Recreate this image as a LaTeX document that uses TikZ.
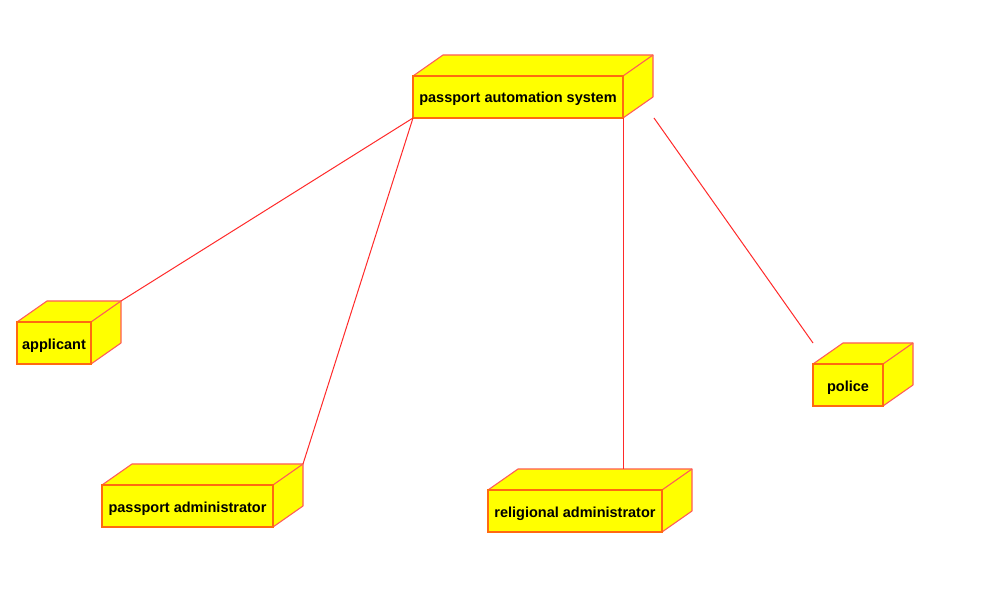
\documentclass[tikz,border=0pt]{standalone}
\usepackage{fontspec}
\setmainfont{Liberation Sans}
\usetikzlibrary{calc}
\definecolor{nodefill}{HTML}{FFFF00}
\definecolor{frontline}{HTML}{FF6A10}
\definecolor{outline}{HTML}{FF5A5A}
\definecolor{wirecol}{HTML}{FF2A2A}
\tikzset{
  front/.style={draw=frontline, fill=nodefill, line width=1.3pt, inner sep=0pt, outer sep=0pt,
    font=\bfseries\fontsize{14.5}{17}\selectfont, anchor=north west},
  depth/.style={draw=outline, fill=nodefill, line width=1.1pt, line join=round},
  wire/.style={draw=wirecol, line width=1pt}
}
% name, x1, y1, x2, y2, text  (image pixel coordinates, y downward)
\newcommand\depnode[6]{%
  \path[depth] (#2,#3) -- (#2+30,#3-21) -- (#4+30,#3-21) -- (#4+30,#5-21) -- (#4,#5) -- (#4,#3) -- cycle;
  \draw[depth] (#4,#3) -- (#4+30,#3-21);
  \coordinate (#1-tl) at (#2+30,#3-21);
  \coordinate (#1-tr) at (#4+30,#3-21);
  \node[front, minimum width=#4pt-#2pt, minimum height=#5pt-#3pt, text depth=0pt] (#1) at (#2,#3) {\raisebox{-1.5pt}{#6}};
}
\begin{document}
\begin{tikzpicture}[x=1pt,y=-1pt]
  \path[use as bounding box, fill=white] (0,0) rectangle (997,601);
  \depnode{pas}{413}{76}{623}{118}{passport automation system}
  \depnode{app}{17}{322}{91}{364}{applicant}
  \depnode{padm}{102}{485}{273}{527}{passport administrator}
  \depnode{rel}{488}{490}{662}{532}{religional administrator}
  \depnode{police}{813}{364}{883}{406}{police}
  \coordinate (pasfoot) at ($(pas.south east)+(31,0)$);
  \coordinate (polend) at ($(police.north west)+(0,-21)$);
  \coordinate (pasdrop) at ($(pas.south east)+(0.5,0)$);
  \draw[wire] (pas.south west) -- (app-tr);
  \draw[wire] (pas.south west) -- (padm-tr);
  \draw[wire] (pasdrop) -- (pasdrop |- rel-tl);
  \draw[wire] (pasfoot) -- (polend);
\end{tikzpicture}
\end{document}
